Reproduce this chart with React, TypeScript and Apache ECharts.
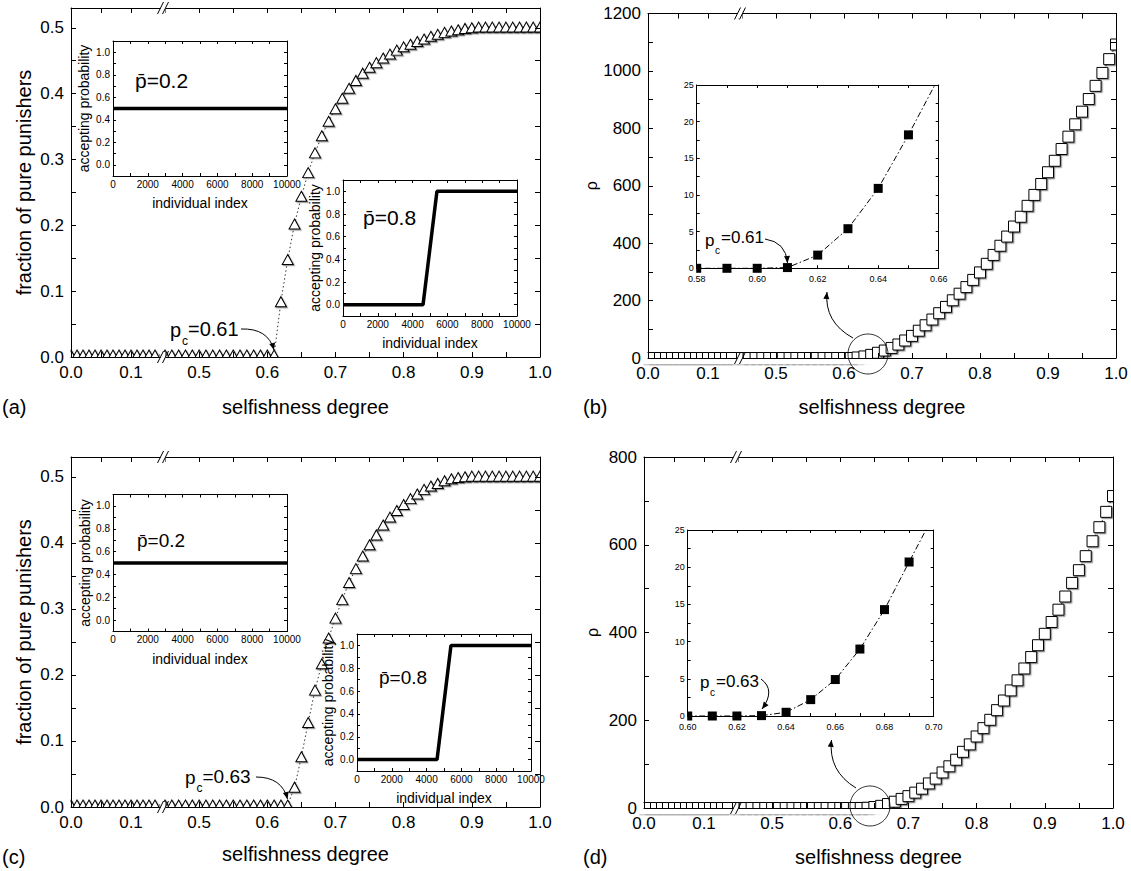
import { useEffect, useRef } from 'react';
import * as echarts from 'echarts';

const FONT = "'Liberation Sans', Arial, Helvetica, sans-serif";

// ---------- data ----------
const SELFISHNESS = [
  0.0, 0.01, 0.02, 0.03, 0.04, 0.05, 0.06, 0.07, 0.08, 0.09, 0.1, 0.11, 0.12, 0.13, 0.14,
  0.45, 0.46, 0.47, 0.48, 0.49, 0.5, 0.51, 0.52, 0.53, 0.54, 0.55, 0.56, 0.57, 0.58, 0.59,
  0.6, 0.61, 0.62, 0.63, 0.64, 0.65, 0.66, 0.67, 0.68, 0.69, 0.7, 0.71, 0.72, 0.73, 0.74,
  0.75, 0.76, 0.77, 0.78, 0.79, 0.8, 0.81, 0.82, 0.83, 0.84, 0.85, 0.86, 0.87, 0.88, 0.89,
  0.9, 0.91, 0.92, 0.93, 0.94, 0.95, 0.96, 0.97, 0.98, 0.99, 1.0,
];

// panel (a): fraction of pure punishers, p_c = 0.61
const PURE_PUNISHERS_A = [
  0.003, 0.003, 0.003, 0.003, 0.003, 0.003, 0.003, 0.003, 0.003, 0.003, 0.003, 0.003, 0.003, 0.003, 0.003,
  0.003, 0.003, 0.003, 0.003, 0.003, 0.003, 0.003, 0.003, 0.003, 0.003, 0.003, 0.003, 0.003, 0.003, 0.003,
  0.003, 0.003, 0.084, 0.148, 0.202, 0.244, 0.28, 0.31, 0.336, 0.358, 0.377, 0.393, 0.408, 0.42, 0.431,
  0.44, 0.447, 0.454, 0.46, 0.466, 0.471, 0.475, 0.479, 0.483, 0.487, 0.49, 0.493, 0.495, 0.497, 0.499,
  0.5, 0.501, 0.501, 0.501, 0.501, 0.501, 0.501, 0.501, 0.501, 0.501, 0.501,
];

// panel (c): fraction of pure punishers, p_c = 0.63
const PURE_PUNISHERS_C = [
  0.003, 0.003, 0.003, 0.003, 0.003, 0.003, 0.003, 0.003, 0.003, 0.003, 0.003, 0.003, 0.003, 0.003, 0.003,
  0.003, 0.003, 0.003, 0.003, 0.003, 0.003, 0.003, 0.003, 0.003, 0.003, 0.003, 0.003, 0.003, 0.003, 0.003,
  0.003, 0.003, 0.003, 0.003, 0.03, 0.076, 0.128, 0.177, 0.217, 0.256, 0.286, 0.314, 0.34, 0.361, 0.38,
  0.397, 0.412, 0.427, 0.439, 0.449, 0.458, 0.467, 0.474, 0.481, 0.486, 0.49, 0.494, 0.497, 0.499, 0.5,
  0.501, 0.501, 0.501, 0.501, 0.501, 0.501, 0.501, 0.501, 0.501, 0.501, 0.501,
];

// panel (b): rho, p_c = 0.61
const RHO_B = [
  0, 0, 0, 0, 0, 0, 0, 0, 0, 0, 0, 0, 0, 0, 0,
  0, 0, 0, 0, 0, 0, 0, 0, 0, 0, 0, 0, 0, 0, 0,
  0, 0.1, 1.8, 5.4, 10.9, 18.2, 26, 35, 47, 61, 77, 95, 114, 134, 156,
  178, 201, 224, 247, 272, 298, 328, 359, 391, 423, 458, 492, 530, 568, 606,
  647, 687, 728, 771, 814, 858, 902, 948, 993, 1041, 1092,
];

// panel (d): rho, p_c = 0.63
const RHO_D = [
  0, 0, 0, 0, 0, 0, 0, 0, 0, 0, 0, 0, 0, 0, 0,
  0, 0, 0, 0, 0, 0, 0, 0, 0, 0, 0, 0, 0, 0, 0,
  0, 0, 0, 0.05, 0.5, 2.2, 4.9, 9.0, 14.3, 20.7, 27, 35, 44, 56, 67,
  81, 95, 110, 128, 145, 163, 182, 201, 223, 245, 268, 291, 318, 344, 371,
  397, 424, 452, 482, 513, 542, 574, 608, 640, 675, 711,
];

// insets: accepting probability vs individual index
const INDEX_LOW = [0, 10000];
const ACCEPT_LOW = [0.5, 0.5];
const INDEX_HIGH = [0, 4600, 5400, 10000];
const ACCEPT_HIGH = [0, 0, 1, 1];

// tick labels
const SELF_TICK_LABELS = [0, 0.1, 0.5, 0.6, 0.7, 0.8, 0.9, 1.0];
const FRACTION_TICK_LABELS = [0, 0.1, 0.2, 0.3, 0.4, 0.5];
const RHO_TICK_LABELS_B = [0, 200, 400, 600, 800, 1000, 1200];
const RHO_TICK_LABELS_D = [0, 200, 400, 600, 800];
const ACCEPT_TICK_LABELS = [0, 0.2, 0.4, 0.6, 0.8, 1.0];
const INDEX_TICK_LABELS = [0, 2000, 4000, 6000, 8000, 10000];
const INSET_RHO_TICK_LABELS = [0, 5, 10, 15, 20, 25];
const INSET_X_TICK_LABELS_B = [0.58, 0.6, 0.62, 0.64, 0.66];
const INSET_X_TICK_LABELS_D = [0.6, 0.62, 0.64, 0.66, 0.68, 0.7];

const zip = (xs: number[], ys: number[]) => xs.map((x, i) => [x, ys[i]]);
const near = (list: number[], v: number) => list.some((t) => Math.abs(t - v) < 1e-6);
const fmt1 = (v: number) => v.toFixed(1);
const fmt2 = (v: number) => v.toFixed(2);
const fmtInt = (v: number) => String(Math.round(v));

function buildOption() {
  const grid: any[] = [];
  const xAxis: any[] = [];
  const yAxis: any[] = [];
  const series: any[] = [];
  const g: any[] = [];

  const addGrid = (left: number, top: number, width: number, height: number) => {
    grid.push({ left, top, width, height, show: false });
    return grid.length - 1;
  };
  const base = (gridIndex: number, tickLen: number) => ({
    type: 'value',
    gridIndex,
    z: 10,
    splitLine: { show: false },
    axisLine: { show: true, onZero: false, lineStyle: { color: '#000', width: 1 } },
    axisTick: { show: true, inside: true, length: tickLen, lineStyle: { color: '#000', width: 1 } },
  });
  const lbl = (list: number[], f: (v: number) => string, size: number, margin: number) => ({
    show: true,
    interval: 0,
    margin,
    color: '#000',
    fontSize: size,
    fontFamily: FONT,
    formatter: (v: number) => (near(list, v) ? f(v) : ''),
  });
  const text = (x: number, y: number, t: string, size: number, extra: any = {}) => ({
    type: 'text',
    x,
    y,
    z: 30,
    silent: true,
    style: {
      text: t,
      fontSize: size,
      fontFamily: FONT,
      fill: '#000',
      align: 'left',
      verticalAlign: 'middle',
      textAlign: 'left',
      textVerticalAlign: 'middle',
      ...extra,
    },
  });
  const mask = (x: number, y: number, w: number, h: number) => ({
    type: 'rect',
    z: 5,
    silent: true,
    shape: { x, y, width: w, height: h },
    style: { fill: '#fff' },
  });
  const arrowHead = (tx: number, ty: number, fx: number, fy: number, len = 7, half = 3) => {
    const dx = tx - fx;
    const dy = ty - fy;
    const d = Math.hypot(dx, dy) || 1;
    const ux = dx / d;
    const uy = dy / d;
    const bx = tx - ux * len;
    const by = ty - uy * len;
    return {
      type: 'polygon',
      z: 30,
      silent: true,
      shape: { points: [[tx, ty], [bx - uy * half, by + ux * half], [bx + uy * half, by - ux * half]] },
      style: { fill: '#000' },
    };
  };
  const curvedArrow = (x1: number, y1: number, cx: number, cy: number, x2: number, y2: number) => {
    g.push({
      type: 'bezierCurve',
      z: 30,
      silent: true,
      shape: { x1, y1, cpx1: cx, cpy1: cy, x2, y2 },
      style: { stroke: '#000', lineWidth: 1, fill: 'none' },
    });
    g.push(arrowHead(x2, y2, cx, cy));
  };
  const breakMarks = (xb: number, ys: number[]) => {
    ys.forEach((y) => {
      g.push({ type: 'rect', z: 20, silent: true, shape: { x: xb - 2.5, y: y - 5, width: 5, height: 10 }, style: { fill: '#fff' } });
      [-2.5, 2.5].forEach((o) => {
        g.push({
          type: 'line',
          z: 21,
          silent: true,
          shape: { x1: xb + o - 3, y1: y + 6, x2: xb + o + 3, y2: y - 6 },
          style: { stroke: '#000', lineWidth: 1 },
        });
      });
    });
  };

  const addMain = (c: any) => {
    const segs = [
      { min: 0, max: 0.15, left: c.segL[0], width: c.segL[1] - c.segL[0], pos: 'left', first: true },
      { min: 0.45, max: 1.0, left: c.segR[0], width: c.segR[1] - c.segR[0], pos: 'right', first: false },
    ];
    segs.forEach((s) => {
      const gi = addGrid(s.left, c.T, s.width, c.B - c.T);
      xAxis.push({
        ...base(gi, 5),
        position: 'bottom',
        min: s.min,
        max: s.max,
        interval: 0.05,
        axisLabel: lbl(SELF_TICK_LABELS, fmt1, 17, 7),
      });
      const xi = xAxis.length - 1;
      xAxis.push({ ...base(gi, 5), position: 'top', min: s.min, max: s.max, interval: 0.05, axisLabel: { show: false } });
      yAxis.push({
        ...base(gi, 5),
        position: s.pos,
        min: 0,
        max: c.yMax,
        interval: c.yInterval,
        axisLabel: s.first ? lbl(c.yTicks, c.yFmt, 17, 7) : { show: false },
        ...(s.first
          ? {
              name: c.yName,
              nameLocation: 'middle',
              nameGap: c.yNameGap,
              nameTextStyle: { fontSize: c.yNameSize, fontFamily: FONT, color: '#000' },
            }
          : {}),
      });
      const yi = yAxis.length - 1;
      series.push({
        type: 'line',
        xAxisIndex: xi,
        yAxisIndex: yi,
        data: zip(SELFISHNESS, c.values),
        clip: true,
        silent: true,
        z: 2,
        symbol: c.symbol,
        symbolSize: c.symbolSize,
        showAllSymbol: true,
        lineStyle: { color: '#000', width: 0.8, type: [1.5, 2.5] },
        itemStyle: {
          color: '#fff',
          borderColor: '#000',
          borderWidth: 1,
          shadowColor: 'rgba(0,0,0,0.4)',
          shadowOffsetX: 1.2,
          shadowOffsetY: 1.2,
          shadowBlur: 0,
        },
        emphasis: { disabled: true },
      });
    });
    // frame grid carrying the shared x-axis title
    const fi = addGrid(c.segL[0], c.T, c.segR[1] - c.segL[0], c.B - c.T);
    xAxis.push({
      type: 'value',
      gridIndex: fi,
      min: 0,
      max: 1,
      axisLine: { show: false },
      axisTick: { show: false },
      axisLabel: { show: false },
      splitLine: { show: false },
      name: 'selfishness degree',
      nameLocation: 'middle',
      nameGap: c.xNameGap,
      nameTextStyle: { fontSize: 20, fontFamily: FONT, color: '#000' },
    });
    yAxis.push({ type: 'value', gridIndex: fi, show: false, min: 0, max: 1 });

    // masks to clip markers at the frame edges
    g.push(mask(c.segL[0] - 8, c.B + 0.5, c.segR[1] - c.segL[0] + 16, 6));
    g.push(mask(c.segR[1] + 0.5, c.T, 8, c.B - c.T + 6));
    g.push(mask(c.segL[0] - 7, c.T, 6.5, c.B - c.T + 6));
    breakMarks((c.segL[1] + c.segR[0]) / 2, [c.T, c.B]);
    g.push(text(c.labelX, c.labelY, c.label, 20));
  };

  const addInset = (c: any) => {
    const gi = addGrid(c.L, c.T, c.W, c.H);
    xAxis.push({
      ...base(gi, 3),
      position: 'bottom',
      min: c.xMin,
      max: c.xMax,
      interval: c.xInterval,
      axisLabel: lbl(c.xTicks, c.xFmt, c.fontSize, c.xMargin ?? 3),
      ...(c.xName
        ? {
            name: c.xName,
            nameLocation: 'middle',
            nameGap: c.xNameGap,
            nameTextStyle: { fontSize: 14, fontFamily: FONT, color: '#000' },
          }
        : {}),
    });
    const xi = xAxis.length - 1;
    xAxis.push({ ...base(gi, 3), position: 'top', min: c.xMin, max: c.xMax, interval: c.xInterval, axisLabel: { show: false } });
    yAxis.push({
      ...base(gi, 3),
      position: 'left',
      min: c.yMin,
      max: c.yMax,
      interval: c.yInterval,
      axisLabel: lbl(c.yTicks, c.yFmt, c.fontSize, c.yMargin ?? 3),
      ...(c.yName
        ? {
            name: c.yName,
            nameLocation: 'middle',
            nameGap: c.yNameGap,
            nameTextStyle: { fontSize: 14, fontFamily: FONT, color: '#000' },
          }
        : {}),
    });
    const yi = yAxis.length - 1;
    yAxis.push({ ...base(gi, 3), position: 'right', min: c.yMin, max: c.yMax, interval: c.yInterval, axisLabel: { show: false } });
    c.series.forEach((s: any) => series.push({ ...s, xAxisIndex: xi, yAxisIndex: yi, clip: true, silent: true, emphasis: { disabled: true } }));
  };

  const acceptSeries = (xs: number[], ys: number[]) => ({
    type: 'line',
    data: zip(xs, ys),
    symbol: 'none',
    z: 3,
    lineStyle: { color: '#000', width: 3.5 },
  });
  const acceptInset = (L: number, T: number, W: number, H: number, xs: number[], ys: number[], yNameGap: number) =>
    addInset({
      L, T, W, H,
      xMin: 0, xMax: 10000, xInterval: 1000, xTicks: INDEX_TICK_LABELS, xFmt: fmtInt,
      yMin: -0.1, yMax: 1.1, yInterval: 0.1, yTicks: ACCEPT_TICK_LABELS, yFmt: fmt1,
      fontSize: 10,
      xName: 'individual index', xNameGap: 20,
      yName: 'accepting probability', yNameGap,
      series: [acceptSeries(xs, ys)],
    });
  const rhoInset = (L: number, T: number, W: number, H: number, xMin: number, xMax: number, xTicks: number[], values: number[]) => {
    addInset({
      L, T, W, H,
      xMin, xMax, xInterval: 0.01, xTicks, xFmt: fmt2,
      yMin: 0, yMax: 25, yInterval: 2.5, yTicks: INSET_RHO_TICK_LABELS, yFmt: fmtInt,
      fontSize: 9, xMargin: 6, yMargin: 3,
      series: [
        {
          type: 'line',
          data: zip(SELFISHNESS, values),
          z: 3,
          symbol: 'rect',
          symbolSize: 9,
          showAllSymbol: true,
          itemStyle: { color: '#000' },
          lineStyle: { color: '#000', width: 1, type: [6, 2.5, 1.5, 2.5] },
        },
      ],
    });
    g.push(mask(L - 6, T + H - 6, 5.5, 12));
  };

  // ---------------- panel (a) ----------------
  addMain({
    segL: [71, 161], segR: [165, 540], T: 8, B: 357,
    yMax: 0.53, yInterval: 0.05, yTicks: FRACTION_TICK_LABELS, yFmt: fmt1,
    yName: 'fraction of pure punishers', yNameGap: 37, yNameSize: 20,
    values: PURE_PUNISHERS_A, symbol: 'triangle', symbolSize: [11, 10],
    xNameGap: 40, label: '(a)', labelX: 2, labelY: 407,
  });
  acceptInset(113, 41, 174, 135, INDEX_LOW, ACCEPT_LOW, 22);
  acceptInset(343, 180, 174, 136, INDEX_HIGH, ACCEPT_HIGH, 19);
  g.push(text(135, 80, 'p\u0304=0.2', 21));
  g.push(text(363, 217, 'p\u0304=0.8', 21));
  g.push(text(170, 330, 'p', 20));
  g.push(text(182, 341, 'c', 12));
  g.push(text(188, 329, '=0.61', 20));
  curvedArrow(241, 329, 268, 328, 274, 350);

  // ---------------- panel (b) ----------------
  addMain({
    segL: [648, 738], segR: [742, 1116], T: 13.5, B: 358,
    yMax: 1200, yInterval: 100, yTicks: RHO_TICK_LABELS_B, yFmt: fmtInt,
    yName: '\u03c1', yNameGap: 44, yNameSize: 16,
    values: RHO_B, symbol: 'rect', symbolSize: 11,
    xNameGap: 39, label: '(b)', labelX: 583, labelY: 407,
  });
  rhoInset(696.7, 85, 242, 183.3, 0.58, 0.66, INSET_X_TICK_LABELS_B, RHO_B);
  g.push(text(705, 240, 'p', 17));
  g.push(text(715, 250, 'c', 10));
  g.push(text(721, 237.5, '=0.61', 17));
  curvedArrow(765, 239, 786, 242, 787.5, 263);
  g.push({ type: 'circle', z: 30, silent: true, shape: { cx: 868, cy: 354, r: 20 }, style: { fill: 'none', stroke: '#000', lineWidth: 0.8 } });
  curvedArrow(853, 338, 824, 322, 827, 292);

  // ---------------- panel (c) ----------------
  addMain({
    segL: [71, 161], segR: [165, 540], T: 457, B: 807,
    yMax: 0.53, yInterval: 0.05, yTicks: FRACTION_TICK_LABELS, yFmt: fmt1,
    yName: 'fraction of pure punishers', yNameGap: 37, yNameSize: 20,
    values: PURE_PUNISHERS_C, symbol: 'triangle', symbolSize: [11, 10],
    xNameGap: 37, label: '(c)', labelX: 2, labelY: 857,
  });
  acceptInset(113, 494.5, 174, 137, INDEX_LOW, ACCEPT_LOW, 21);
  acceptInset(357, 634, 174, 137, INDEX_HIGH, ACCEPT_HIGH, 22);
  g.push(text(137, 540, 'p\u0304=0.2', 19));
  g.push(text(379, 677, 'p\u0304=0.8', 19));
  g.push(text(185, 777, 'p', 19));
  g.push(text(196.5, 788, 'c', 12));
  g.push(text(202.5, 776.5, '=0.63', 19));
  curvedArrow(256, 777, 282, 777, 287.5, 799);

  // ---------------- panel (d) ----------------
  addMain({
    segL: [644, 734], segR: [738, 1113], T: 457, B: 808,
    yMax: 800, yInterval: 100, yTicks: RHO_TICK_LABELS_D, yFmt: fmtInt,
    yName: '\u03c1', yNameGap: 44, yNameSize: 16,
    values: RHO_D, symbol: 'rect', symbolSize: 11,
    xNameGap: 39, label: '(d)', labelX: 583, labelY: 857,
  });
  rhoInset(687.7, 530, 246, 186, 0.6, 0.7, INSET_X_TICK_LABELS_D, RHO_D);
  g.push(text(700, 682, 'p', 17));
  g.push(text(710, 692, 'c', 10));
  g.push(text(716, 681, '=0.63', 17));
  curvedArrow(761, 679, 776, 690, 762, 709);
  g.push({ type: 'circle', z: 30, silent: true, shape: { cx: 870, cy: 806, r: 20 }, style: { fill: 'none', stroke: '#000', lineWidth: 0.8 } });
  curvedArrow(856, 788, 828, 771, 831.5, 740);

  return {
    animation: false,
    backgroundColor: '#fff',
    textStyle: { fontFamily: FONT },
    grid,
    xAxis,
    yAxis,
    series,
    graphic: { elements: g },
  };
}

export default function App() {
  const ref = useRef<HTMLDivElement>(null);
  useEffect(() => {
    if (!ref.current) return;
    const chart = echarts.init(ref.current, undefined, { renderer: 'svg', width: 1131, height: 871 });
    chart.setOption(buildOption() as any);
    return () => chart.dispose();
  }, []);
  return (
    <div
      ref={ref}
      style={{ position: 'absolute', left: 0, top: 0, width: 1131, height: 871, background: '#fff' }}
    />
  );
}
